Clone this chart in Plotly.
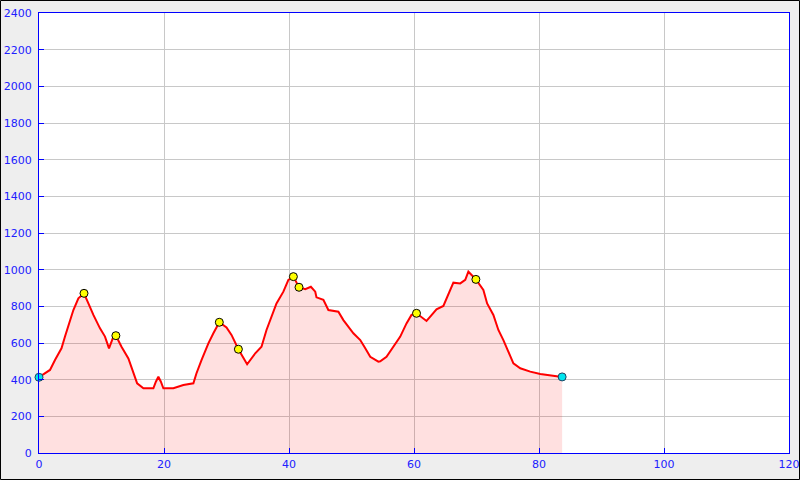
import plotly.graph_objects as go

# Elevation profile (distance in km, elevation in m)
dist_km = [0, 0.8, 1.76, 2.56, 3.6, 4.16, 4.7, 5.5, 6.3, 7.2, 7.9, 8.7, 9.76, 10.56, 11.2, 11.8,
           12.3, 13.2, 14.3, 15.1, 15.7, 16.7, 18.3, 18.7, 19.1, 19.5, 19.9, 21.5, 23.1, 24.7,
           25.2, 26.0, 27.1, 27.9, 28.85, 30.0, 30.8, 31.9, 32.8, 33.3, 34.6, 35.6, 36.4, 37.2,
           38.0, 39.1, 39.9, 40.7, 41.6, 42.6, 43.5, 44.2, 44.4, 45.5, 46.3, 47.9, 48.7, 50.3,
           51.4, 52.2, 53.0, 54.3, 54.6, 55.6, 56.7, 57.8, 58.8, 59.6, 60.4, 61.2, 62.0, 62.6,
           63.6, 64.7, 65.5, 66.3, 67.4, 68.2, 68.7, 69.2, 69.9, 71.1, 71.7, 72.7, 73.5, 74.3,
           75.1, 75.9, 77.0, 78.6, 80.2, 81.8, 83.7]
elev_m = [413, 430, 453, 507, 571, 635, 698, 780, 844, 871, 816, 753, 680, 635, 571, 625,
          640, 580, 516, 444, 380, 353, 353, 389, 416, 389, 353, 353, 371, 380,
          435, 507, 598, 653, 713, 685, 644, 566, 516, 484, 544, 580, 671, 744,
          816, 880, 944, 962, 904, 893, 907, 880, 849, 835, 780, 771, 725, 653,
          616, 571, 525, 498, 500, 525, 580, 635, 707, 753, 762, 740, 720, 744,
          784, 802, 871, 929, 925, 944, 989, 971, 947, 889, 816, 753, 671, 616,
          553, 489, 462, 444, 431, 422, 415]

# Waypoints
waypoint_km = [7.2, 12.3, 28.85, 31.9, 40.7, 41.6, 60.4, 69.9]
waypoint_elev = [871, 640, 713, 566, 962, 904, 762, 947]
endpoint_km = [0, 83.7]
endpoint_elev = [413, 415]

x_ticks = [0, 20, 40, 60, 80, 100, 120]
y_ticks = [0, 200, 400, 600, 800, 1000, 1200, 1400, 1600, 1800, 2000, 2200, 2400]

fig = go.Figure()
fig.add_trace(go.Scatter(x=dist_km, y=elev_m, mode="lines", fill="tozeroy",
                         fillcolor="rgba(255,0,0,0.12)",
                         line=dict(color="#ff0000", width=2), hoverinfo="skip"))
fig.add_trace(go.Scatter(x=waypoint_km, y=waypoint_elev, mode="markers", cliponaxis=False,
                         marker=dict(color="#ffff00", size=8, line=dict(color="black", width=1))))
fig.add_trace(go.Scatter(x=endpoint_km, y=endpoint_elev, mode="markers", cliponaxis=False,
                         marker=dict(color="#00e5ee", size=8, line=dict(color="#204060", width=1))))

W, H = 800, 480
L, R, T, B = 39, 11, 13, 27
pw, ph = W - L - R, H - T - B

axis_common = dict(showline=True, linecolor="#0000ff", linewidth=1, mirror=True,
                   showgrid=True, gridcolor="#c8c8c8", gridwidth=1,
                   ticks="inside", ticklen=5, tickcolor="#0000ff",
                   tickfont=dict(family="DejaVu Sans", size=11, color="#2020ff"),
                   zeroline=False, automargin=False)

fig.update_layout(
    width=W, height=H,
    margin=dict(l=L, r=R, t=T, b=B, pad=0, autoexpand=False),
    paper_bgcolor="#eeeeee", plot_bgcolor="white",
    showlegend=False,
    xaxis=dict(range=[0, 120], tickvals=x_ticks, ticktext=[str(v) for v in x_ticks],
               ticklabelstandoff=1, **axis_common),
    yaxis=dict(range=[0, 2400], tickvals=y_ticks, ticktext=[str(v) for v in y_ticks],
               ticklabelstandoff=4, **axis_common),
    shapes=[dict(type="rect", xref="paper", yref="paper",
                 x0=-(L - 0.5) / pw, x1=(W - L - 0.5) / pw,
                 y0=-(B - 0.5) / ph, y1=1 + (T - 0.5) / ph,
                 line=dict(color="black", width=1), fillcolor="rgba(0,0,0,0)", layer="above")],
)

fig.write_html("out.html", config={"displayModeBar": False},
               post_script="document.body.style.margin='0';document.body.style.padding='0';")
